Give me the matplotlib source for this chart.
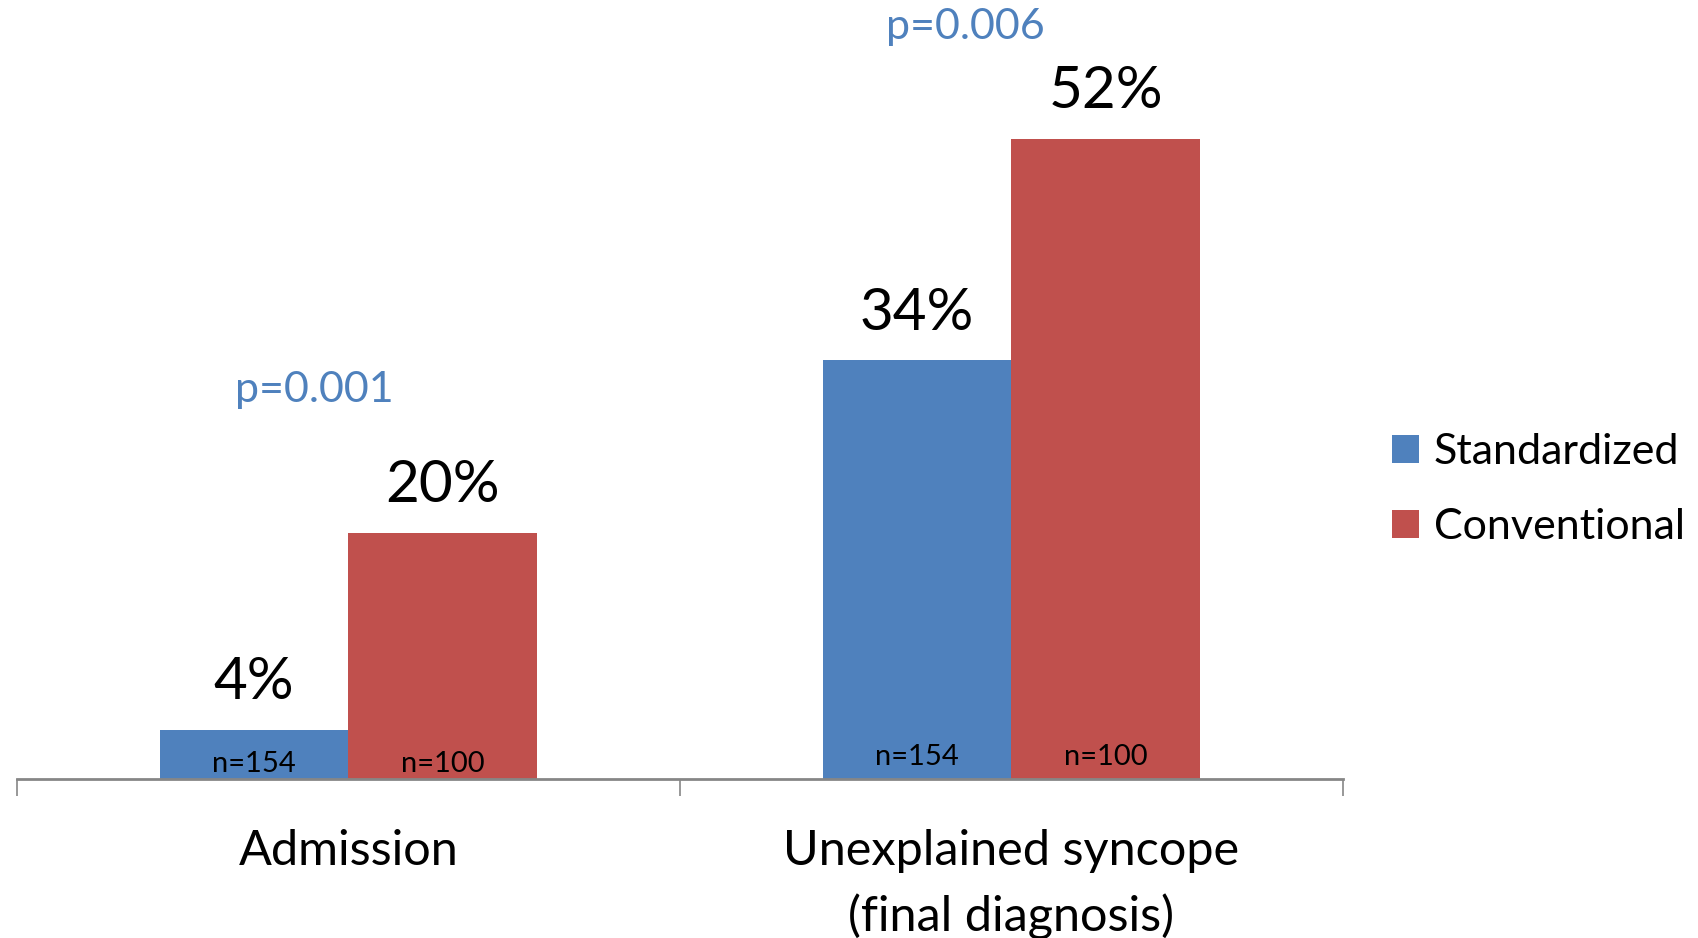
import matplotlib.pyplot as plt
import numpy as np

categories = ["Admission", "Unexplained syncope\n(final diagnosis)"]
series_names = ["Standardized", "Conventional"]
standardized = [4, 34]
conventional = [20, 52]
n_standardized = ["n=154", "n=154"]
n_conventional = ["n=100", "n=100"]
p_values = ["p=0.001", "p=0.006"]

blue = "#4F81BD"
red = "#C0504D"

plt.rcParams['font.family'] = ['Lato', 'DejaVu Sans']

fig = plt.figure(figsize=(16.99, 9.38), dpi=100)
ax = fig.add_axes([17 / 1699, 159 / 938, 1326 / 1699, 738.6 / 938])

x = np.arange(len(categories))
w = 0.285
b1 = ax.bar(x - w / 2, standardized, w, color=blue, label=series_names[0])
b2 = ax.bar(x + w / 2, conventional, w, color=red, label=series_names[1])

# percentage labels above bars
for bars, vals in [(b1, standardized), (b2, conventional)]:
    for rect, v in zip(bars, vals):
        ax.annotate(f"{v}%", (rect.get_x() + rect.get_width() / 2, v),
                    xytext=(0, 34), textcoords="offset points",
                    ha="center", va="center", fontsize=42)

# n labels inside bars near the bottom
n_y = [1.2, 1.8]
for i in range(len(categories)):
    ax.text(x[i] - w / 2, n_y[i], n_standardized[i], ha="center", va="center", fontsize=21)
    ax.text(x[i] + w / 2, n_y[i], n_conventional[i], ha="center", va="center", fontsize=21)

# p-values
p_pos = [(-0.052, 31.6), (0.93, 61.1)]
for (px, py), p in zip(p_pos, p_values):
    ax.text(px, py, p, ha="center", va="center", fontsize=31, color=blue)

ax.set_xlim(-0.5, 1.5)
ax.set_ylim(0, 60)
ax.set_xticks(x)
ax.set_xticklabels(categories, fontsize=35, linespacing=1.55)
ax.set_xticks([-0.5, 0.5, 1.5], minor=True)
ax.tick_params(axis="x", which="major", length=0, pad=36)
ax.tick_params(axis="x", which="minor", length=12, width=1.2, color="#868686", direction="out")
ax.set_yticks([])
for s in ["top", "right", "left"]:
    ax.spines[s].set_visible(False)
ax.spines["bottom"].set_color("#868686")
ax.spines["bottom"].set_linewidth(2)

leg = ax.legend(loc="center left", bbox_to_anchor=(1.037, 0.392), frameon=False,
                fontsize=31, handlelength=0.62, handleheight=0.62,
                handletextpad=0.35, labelspacing=0.85, borderpad=0, borderaxespad=0)

fig.savefig("out.png", dpi=100)
